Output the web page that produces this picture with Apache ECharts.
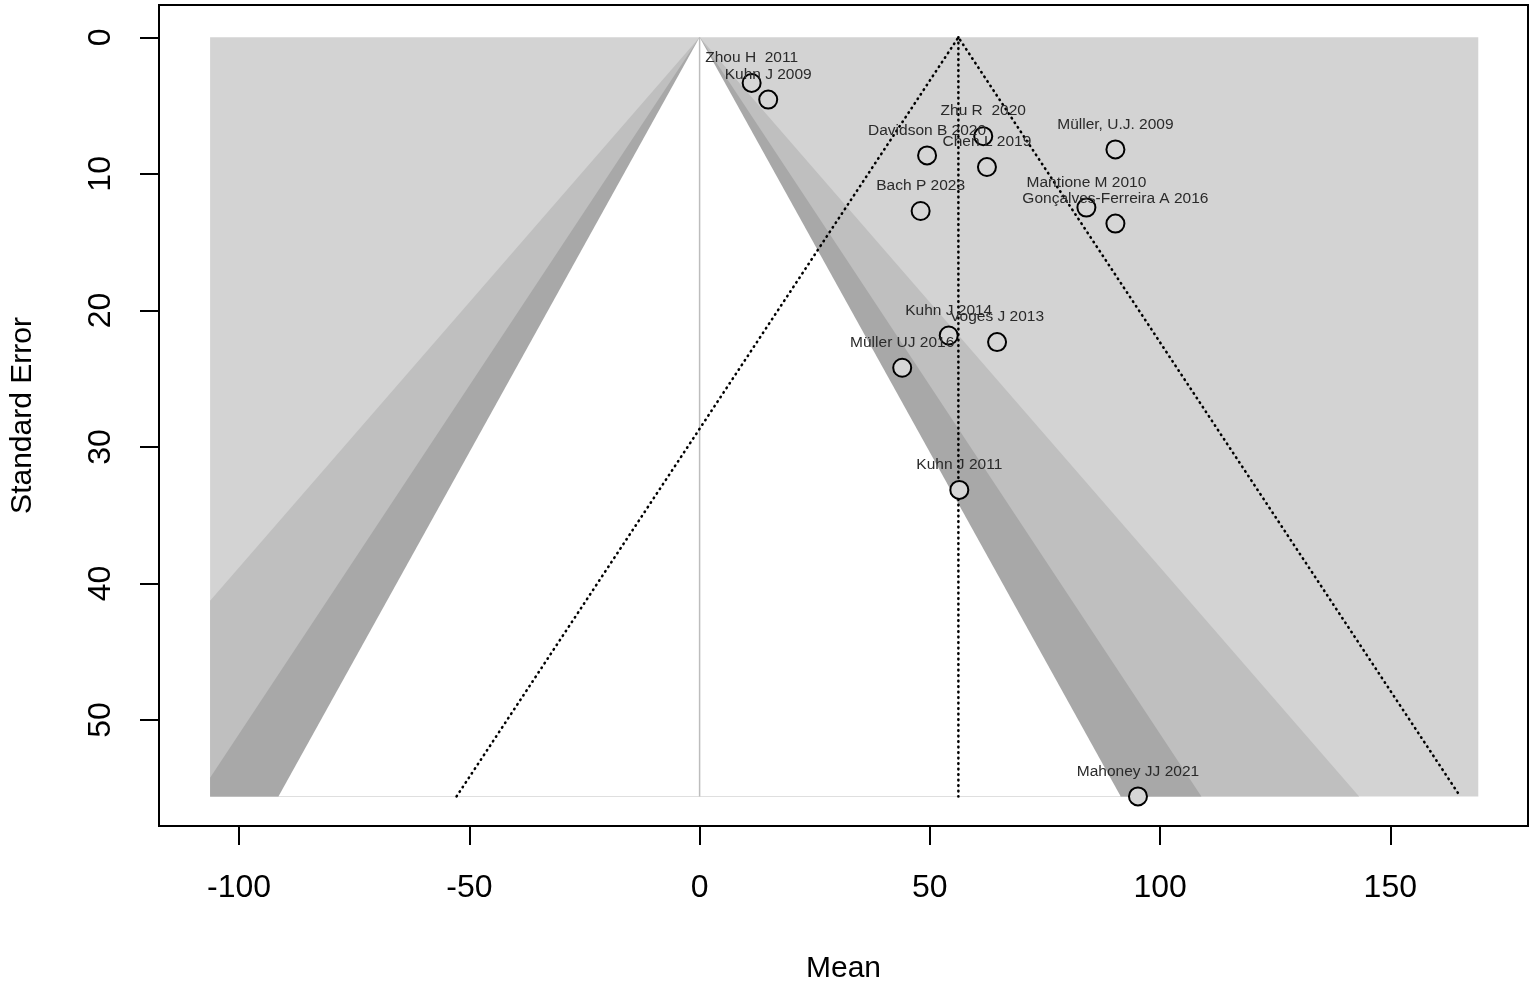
<!DOCTYPE html>
<html>
<head>
<meta charset="utf-8">
<script src="https://cdn.jsdelivr.net/npm/echarts/dist/echarts.min.js"></script>
<style>
html,body{margin:0;padding:0;background:#fff;overflow:hidden;}
#chart{width:1536px;height:989px;}
</style>
</head>
<body>
<div id="chart"></div>
<script>
// ---- data ----
const studies = ["Zhou H  2011","Kuhn J 2009","Zhu R  2020","Davidson B 2020","Müller, U.J. 2009","Chen L 2019","Bach P 2023","Mantione M 2010","Gonçalves-Ferreira A 2016","Kuhn J 2014","Voges J 2013","Müller UJ 2016","Kuhn J 2011","Mahoney JJ 2021"];
const means   = [11.3, 14.9, 61.6, 49.4, 90.3, 62.4, 48.0, 84.0, 90.3, 54.1, 64.6, 44.0, 56.4, 95.2];
const ses     = [3.34, 4.56, 7.24, 8.65, 8.21, 9.50, 12.72, 12.47, 13.64, 21.84, 22.32, 24.2, 33.15, 55.6];
const estimate = 56.2;                 // pooled estimate (dotted funnel centre)
const contourZ = [2.576, 1.96, 1.645]; // 99%, 95%, 90% contours
const contourColors = ['#bfbfbf', '#a8a8a8', '#ffffff'];
const backColor = '#d3d3d3';
const xLim = [-106.3, 169.1];
const xTicks = [-100, -50, 0, 50, 100, 150];
const yTicks = [0, 10, 20, 30, 40, 50];
const ciZ = 1.96;

const seMax = Math.max.apply(null, ses);

function funnelPoly(z) {
  const S = seMax;
  const pts = [[0, 0]];
  const L = -z * S;
  if (L < xLim[0]) { pts.push([xLim[0], -xLim[0] / z]); pts.push([xLim[0], S]); }
  else pts.push([L, S]);
  const R = z * S;
  if (R > xLim[1]) { pts.push([xLim[1], S]); pts.push([xLim[1], xLim[1] / z]); }
  else pts.push([R, S]);
  return pts;
}

const polys = [[[xLim[0], 0], [xLim[1], 0], [xLim[1], seMax], [xLim[0], seMax]]];
const polyColors = [backColor];
contourZ.forEach((z, i) => { polys.push(funnelPoly(z)); polyColors.push(contourColors[i]); });

const chart = echarts.init(document.getElementById('chart'), null, {renderer: 'canvas'});
const FONT = 'Liberation Sans, Arial, sans-serif';

const dotted = {color: '#000', width: 2.6, type: [0.5, 5], cap: 'round'};

chart.setOption({
  animation: false,
  backgroundColor: '#fff',
  grid: {left: 158, right: 8, top: 5, bottom: 160, show: true, borderColor: '#000', borderWidth: 2, backgroundColor: 'transparent'},
  xAxis: {
    type: 'value', min: -117.4, max: 179.9, position: 'bottom',
    name: 'Mean', nameLocation: 'middle', nameGap: 128,
    nameTextStyle: {fontSize: 30, color: '#000', fontFamily: FONT},
    axisLine: {show: false, onZero: false},
    splitLine: {show: false},
    axisTick: {show: true, length: 19, lineStyle: {color: '#000', width: 2}, customValues: xTicks},
    axisLabel: {fontSize: 32, color: '#000', fontFamily: FONT, margin: 46, customValues: xTicks}
  },
  yAxis: {
    type: 'value', inverse: true, min: -2.37, max: 57.77, position: 'left',
    name: 'Standard Error', nameLocation: 'middle', nameGap: 121, nameRotate: 90,
    nameTextStyle: {fontSize: 30, color: '#000', fontFamily: FONT},
    axisLine: {show: false, onZero: false},
    splitLine: {show: false},
    axisTick: {show: true, length: 19, lineStyle: {color: '#000', width: 2}, customValues: yTicks},
    axisLabel: {fontSize: 32, color: '#000', fontFamily: FONT, margin: 42, rotate: 90, customValues: yTicks}
  },
  series: [
    {
      type: 'custom',
      silent: true,
      data: polys.map((p, i) => [i]),
      renderItem: function (params, api) {
        const i = params.dataIndex;
        const pts = polys[i].map(p => api.coord(p));
        return {type: 'polygon', shape: {points: pts}, style: {fill: polyColors[i], stroke: null}};
      },
      z: 1
    },
    {
      type: 'line', data: [[0, 0], [0, seMax]], symbol: 'none', silent: true,
      lineStyle: {color: '#bdbdbd', width: 1.5}, z: 2
    },
    {
      type: 'line', data: [[estimate, 0], [estimate, seMax]], symbol: 'none', silent: true,
      lineStyle: dotted, z: 3
    },
    {
      type: 'line', data: [[estimate - ciZ * seMax, seMax], [estimate, 0], [estimate + ciZ * seMax, seMax]], symbol: 'none', silent: true,
      lineStyle: dotted, z: 3
    },
    {
      type: 'scatter', z: 5,
      data: studies.map((s, i) => [means[i], ses[i], s]),
      symbol: 'circle', symbolSize: 18,
      itemStyle: {color: '#d6d6d6', borderColor: '#000', borderWidth: 2, opacity: 1},
      label: {show: true, position: 'top', distance: 7, formatter: p => p.data[2],
              fontSize: 15.5, color: '#2a2a2a', fontFamily: FONT}
    }
  ]
});
</script>
</body>
</html>
